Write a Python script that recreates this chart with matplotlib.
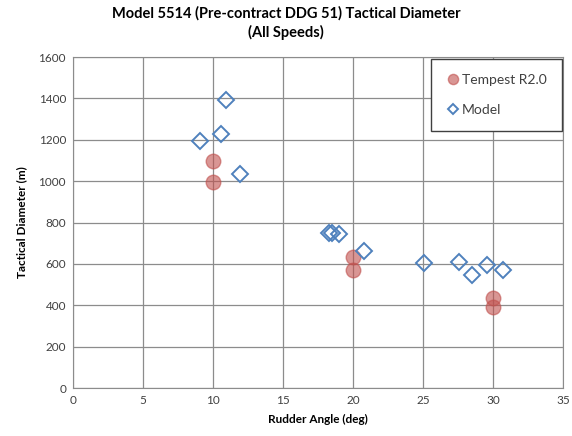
import numpy as np
import matplotlib
matplotlib.use('Agg')
import matplotlib.pyplot as plt

plt.rcParams['font.family'] = ['Lato', 'DejaVu Sans']

# Tempest R2.0 results
tempest_angle = [10.0, 10.0, 20.0, 20.0, 30.0, 30.0]
tempest_td = [1098, 997, 633, 573, 434, 394]

# model test data
model_angle = [9.1, 10.6, 10.9, 11.9, 18.3, 18.5, 19.0, 20.8, 25.1, 27.6, 28.5, 29.6, 30.7]
model_td = [1193, 1228, 1395, 1033, 750, 748, 745, 662, 604, 609, 546, 594, 570]

xticks = np.arange(0, 36, 5)
yticks = np.arange(0, 1601, 200)

fig = plt.figure(figsize=(5.72, 4.36), dpi=100)
ax = fig.add_axes([0.1276, 0.110, 0.8566, 0.759])

ax.plot(tempest_angle, tempest_td, linestyle='none', marker='o', ms=10.5,
        color='#c0504d', mec='#c0504d', alpha=0.6, label='Tempest R2.0', zorder=3)
ax.plot(model_angle, model_td, linestyle='none', marker='D', ms=7.8,
        mfc='none', mec='#4f81bd', mew=1.4, label='Model', zorder=4)

ax.set_xlim(0, 35)
ax.set_ylim(0, 1600)
ax.set_xticks(xticks)
ax.set_yticks(yticks)
ax.tick_params(labelsize=8.5, length=0, pad=5, colors='#404040')
ax.grid(True, color='#8c8c8c', linewidth=0.9)
ax.set_axisbelow(True)
for s in ax.spines.values():
    s.set_color('#8c8c8c')

ax.set_xlabel('Rudder Angle (deg)', fontsize=8.5, fontweight='bold', labelpad=6)
ax.set_ylabel('Tactical Diameter (m)', fontsize=8.5, fontweight='bold', labelpad=8)
fig.suptitle('Model 5514 (Pre-contract DDG 51) Tactical Diameter\n(All Speeds)',
             fontsize=10.5, fontweight='bold', y=0.985, linespacing=1.3)

leg = ax.legend(loc='upper right', bbox_to_anchor=(1.0, 1.0), fontsize=10, frameon=True,
                fancybox=False, edgecolor='#404040', framealpha=1, borderpad=1.1,
                labelspacing=1.3, handletextpad=0.1, handlelength=1.0, borderaxespad=0.1,
                markerscale=0.7)
leg.get_frame().set_linewidth(1.0)
for t in leg.get_texts():
    t.set_color('#404040')

fig.savefig('out.png', dpi=100)
